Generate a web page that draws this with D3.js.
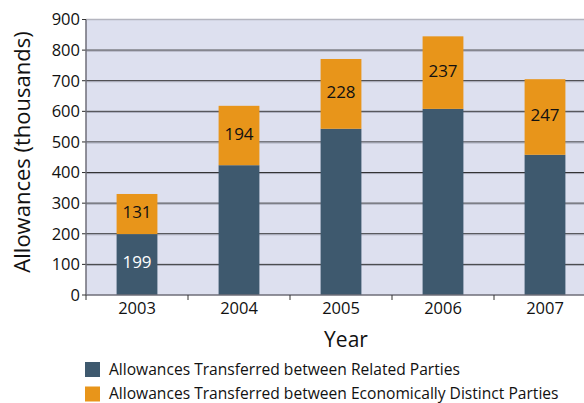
<!DOCTYPE html>
<html><head><meta charset="utf-8">
<script src="https://cdn.jsdelivr.net/npm/d3@7"></script>
<style>body{margin:0;background:#fff}svg{display:block;font-family:"Open Sans",sans-serif}</style>
</head><body><svg id="c" width="584" height="403"></svg>
<script>
const years = ["2003","2004","2005","2006","2007"];
const related = [199, 424, 543, 608, 458];
const distinct = [131, 194, 228, 237, 247];
const yTicks = [0,100,200,300,400,500,600,700,800,900];
const seriesNames = ["Allowances Transferred between Related Parties","Allowances Transferred between Economically Distinct Parties"];
const colors = ["#3e596e","#e8951a"];
const FONT = "'Open Sans',sans-serif";

const svg = d3.select("#c");
const L = 86, R = 596, T = 19.5, B = 295;
const x = d3.scaleBand().domain(years).range([L, R]).paddingInner(0.6).paddingOuter(0.3);
const xb = d3.scaleBand().domain(years).range([L, R]);
const y = d3.scaleLinear().domain([0, 900]).range([B, T]);

svg.append("rect").attr("x", L).attr("y", T).attr("width", R - L).attr("height", B - T).attr("fill", "#dde0ef");
svg.append("line").attr("x1", L).attr("x2", R).attr("y1", T).attr("y2", T).attr("stroke", "#b4b5bf").attr("stroke-width", 1.5);

const g = svg.append("g");
yTicks.slice(1, -1).forEach(v => {
  g.append("line").attr("x1", L - 4).attr("x2", R).attr("y1", y(v)).attr("y2", y(v)).attr("stroke", "#2a2a2a").attr("stroke-width", 1);
  g.append("line").attr("x1", L).attr("x2", R).attr("y1", y(v) + 1).attr("y2", y(v) + 1).attr("stroke", "#a7a9b8").attr("stroke-width", 1);
});

const stack = years.map((yr, i) => ({yr, r: related[i], d: distinct[i]}));
svg.selectAll(".br").data(stack).join("rect")
  .attr("x", d => x(d.yr)).attr("width", x.bandwidth())
  .attr("y", d => y(d.r)).attr("height", d => y(0) - y(d.r)).attr("fill", colors[0]);
svg.selectAll(".bd").data(stack).join("rect")
  .attr("x", d => x(d.yr)).attr("width", x.bandwidth())
  .attr("y", d => y(d.r + d.d)).attr("height", d => y(d.r) - y(d.r + d.d)).attr("fill", colors[1]);

svg.selectAll(".ld").data(stack).join("text")
  .attr("x", d => x(d.yr) + x.bandwidth() / 2).attr("y", d => (y(d.r) + y(d.r + d.d)) / 2 + 4)
  .attr("text-anchor", "middle").attr("font-size", 17).attr("fill", "#111").text(d => d.d);
svg.selectAll(".lr").data(stack.filter((d, i) => i === 0)).join("text")
  .attr("x", d => x(d.yr) + x.bandwidth() / 2).attr("y", d => (y(0) + y(d.r)) / 2 + 3)
  .attr("text-anchor", "middle").attr("font-size", 17).attr("fill", "#fff").text(d => d.r);

// axes
svg.append("line").attr("x1", L).attr("x2", L).attr("y1", T).attr("y2", B).attr("stroke", "#6e6e78").attr("stroke-width", 1.5);
svg.append("line").attr("x1", L).attr("x2", R).attr("y1", B).attr("y2", B).attr("stroke", "#6e6e78").attr("stroke-width", 1.5);
[T, B].forEach(v => svg.append("line").attr("x1", L - 4).attr("x2", L).attr("y1", v).attr("y2", v).attr("stroke", "#333"));

const ya = svg.append("g").attr("transform", `translate(${L},0)`)
  .call(d3.axisLeft(y).tickValues(yTicks).tickSize(0).tickPadding(6));
ya.select(".domain").remove();
ya.selectAll("text").attr("font-size", 16.5).attr("fill", "#111").attr("font-family", FONT);

const xa = svg.append("g").attr("transform", `translate(0,${B})`)
  .call(d3.axisBottom(xb).tickSize(0).tickPadding(7));
xa.select(".domain").remove();
xa.selectAll("text").attr("font-size", 16.5).attr("fill", "#111").attr("font-family", FONT);
years.forEach(yr => svg.append("line").attr("x1", xb(yr)).attr("x2", xb(yr)).attr("y1", B).attr("y2", B + 5).attr("stroke", "#333"));

svg.append("text").attr("x", 346).attr("y", 347).attr("text-anchor", "middle").attr("font-size", 21).attr("fill", "#111").text("Year");
svg.append("text").attr("transform", "translate(30,152) rotate(-90)").attr("text-anchor", "middle").attr("font-size", 22).attr("fill", "#111").text("Allowances (thousands)");

const lg = svg.append("g");
seriesNames.forEach((n, i) => {
  lg.append("rect").attr("x", 85).attr("y", 362 + i * 24.5).attr("width", 15).attr("height", 15).attr("fill", colors[i]);
  lg.append("text").attr("x", 109).attr("y", 375 + i * 23.5).attr("font-size", 15.6).attr("fill", "#111").text(n);
});
</script></body></html>
